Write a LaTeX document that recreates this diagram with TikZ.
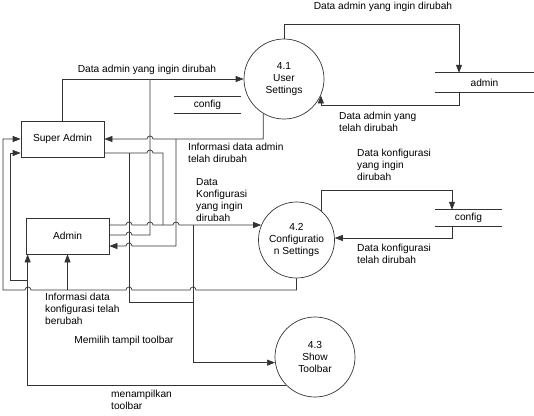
\documentclass[tikz,border=0pt]{standalone}
\usepackage{fontspec}
\setmainfont{Liberation Sans}
\usepackage{tikz}
\usetikzlibrary{arrows.meta,positioning,calc}
\tikzset{
  dfd/.style={font=\fontsize{10.2}{12.2}\selectfont},
  entity/.style={rectangle, draw=black!80, line width=0.7pt, minimum width=83pt,
    minimum height=36pt, inner sep=0pt, dfd},
  proc/.style={circle, draw=black!80, line width=0.7pt, align=center, inner sep=0pt, dfd},
  store/.style={minimum width=67pt, minimum height=16pt, inner sep=0pt, dfd},
  lbl/.style={align=left, inner sep=0pt, anchor=north west, dfd},
  link/.style={line width=0.7pt, draw=black!80},
  flow/.style={link, -{Triangle[length=8pt,width=6pt]}},
}

\begin{document}
\begin{tikzpicture}[x=1pt, y=-1pt]
  \useasboundingbox (0,0) rectangle (534,415);
  \node[entity] (sa) at (62.5,139) {Super Admin};
  \node[entity] (ad) at (67.5,236) {Admin};
  \node[proc, minimum size=80pt] (c41) at (284,79) {4.1\\User\\Settings};
  \node[proc, minimum size=76pt] (c42) at (296.5,240) {4.2\\Configuratio\\n Settings};
  \node[proc, minimum size=80pt] (c43) at (315,357) {4.3\\Show\\Toolbar};
  \node[store, minimum width=99pt, minimum height=19pt] (dsadmin) at (484.5,82.5) {admin};
  \node[store] (dscfgA) at (207.5,105) {config};
  \node[store] (dscfgB) at (468.5,218) {config};
  \foreach \s in {dsadmin,dscfgA,dscfgB}
    \draw[link] (\s.north west) -- (\s.north east) (\s.south west) -- (\s.south east);

  \coordinate (jsa) at (129,153);
  \coordinate (jad) at (193,225);
  \coordinate (jinfo) at (176,139);
  \coordinate (jcfg) at (67.5,290);
  \coordinate (jtb) at (28,280);

  \draw[flow] (sa.north) |- (c41.west);
  \draw[link] (ad.east |- 0,235) -- (126,235) arc[start angle=180, end angle=0, radius=3pt]
    -- (150,235) -- (150,0 |- c41.west);
  \draw[link] (sa.east |- jsa) -- (147,153) arc[start angle=180, end angle=0, radius=3pt]
    -- (163,153) -- (163,0 |- jad);
  \draw[link] (jsa) |- (193,302);
  \draw[flow] (ad.east |- jad) -- (126,225) arc[start angle=180, end angle=0, radius=3pt]
    -- (147,225) arc[start angle=180, end angle=0, radius=3pt]
    -- (173,225) arc[start angle=180, end angle=0, radius=3pt] -- (c42.157);
  \draw[flow] (jad) |- (c43.188);
  \draw[flow] (c41.239) |- (jinfo) -- (153,139) arc[start angle=0, end angle=180, radius=3pt]
    -- (sa.east);
  \draw[flow] (jinfo) -- (176,246) -- (132,246) arc[start angle=0, end angle=180, radius=3pt]
    -- (ad.east |- 0,246);
  \draw[flow] (c41.north) -- (c41.north |- 0,24) -| ([xshift=-25.5pt]dsadmin.north);
  \draw[flow] ([xshift=-25.5pt]dsadmin.south) -- ++(0,13) -| (c41.-24);
  \draw[flow] (c42.49) -- (c42.49 |- 0,190) -| ([xshift=-16.5pt]dscfgB.north);
  \draw[flow] ([xshift=-16.5pt]dscfgB.south) |- (c42.3);
  \draw[flow] (c42.south) |- (196,290) arc[start angle=0, end angle=180, radius=3pt]
    -- (132,290) arc[start angle=0, end angle=180, radius=3pt]
    -- (31,290) arc[start angle=0, end angle=180, radius=3pt]
    -- (3,290) |- (sa.west);
  \draw[flow] (jcfg) -- (ad.south);
  \draw[flow] (c43.225) -| ([xshift=2pt]ad.south west);
  \draw[flow] (jtb) -- (10,280) |- (sa.west |- jsa);

  \node[lbl, anchor=center] at (147,70) {Data admin yang ingin dirubah};
  \node[lbl, anchor=center] at (383,7) {Data admin yang ingin dirubah};
  \node[lbl] at (339,112) {Data admin yang\\telah dirubah};
  \node[lbl] at (188,143) {Informasi data admin\\telah dirubah};
  \node[lbl] at (196,178) {Data\\Konfigurasi\\yang ingin\\dirubah};
  \node[lbl] at (357,149) {Data konfigurasi\\yang ingin\\dirubah};
  \node[lbl] at (357,244) {Data konfigurasi\\telah dirubah};
  \node[lbl] at (45,292.5) {Informasi data\\konfigurasi telah\\berubah};
  \node[lbl, anchor=center] at (124,341) {Memilih tampil toolbar};
  \node[lbl] at (111,390) {menampilkan\\toolbar};
\end{tikzpicture}
\end{document}
